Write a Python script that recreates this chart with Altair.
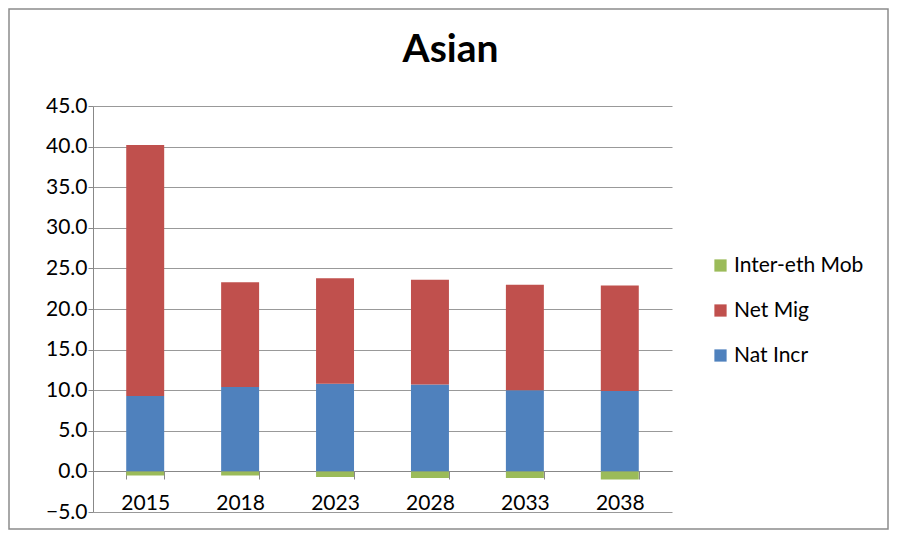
import altair as alt
import pandas as pd

years = ["2015", "2018", "2023", "2028", "2033", "2038"]
nat_incr = [9.3, 10.4, 10.8, 10.7, 10.0, 9.9]
net_mig = [30.9, 12.9, 13.0, 12.9, 13.0, 13.0]
inter_eth = [-0.5, -0.5, -0.7, -0.8, -0.8, -1.0]

series_names = ["Inter-eth Mob", "Net Mig", "Nat Incr"]
series_colors = ["#9BBB59", "#C0504D", "#4F81BD"]
stack_rank = {"Nat Incr": 0, "Net Mig": 1, "Inter-eth Mob": 2}

rows = []
for i, y in enumerate(years):
    rows.append({"year": y, "series": "Nat Incr", "value": nat_incr[i]})
    rows.append({"year": y, "series": "Net Mig", "value": net_mig[i]})
    rows.append({"year": y, "series": "Inter-eth Mob", "value": inter_eth[i]})
df = pd.DataFrame(rows)
df["rank"] = df["series"].map(stack_rank)

FONT = "Lato"
W, H = 579, 406

bars = alt.Chart(df).mark_bar().encode(
    x=alt.X("year:N", sort=years, title=None,
            scale=alt.Scale(paddingInner=0.6, paddingOuter=0.35),
            axis=alt.Axis(orient="bottom", offset=-41, labelAngle=0,
                          tickBand="extent", tickSize=8, tickColor="#888888",
                          domainColor="#888888", labelFontSize=21,
                          labelColor="#000000", labelPadding=13,
                          labelFont=FONT, grid=False)),
    y=alt.Y("value:Q", stack="zero", title=None,
            scale=alt.Scale(domain=[-5, 45], nice=False, zero=False),
            axis=alt.Axis(values=[-5, 0, 5, 10, 15, 20, 25, 30, 35, 40, 45],
                          format=".1f", labelFontSize=21, labelColor="#000000",
                          labelFont=FONT, tickSize=5, tickColor="#888888",
                          domainColor="#888888", gridColor="#999999",
                          labelPadding=1)),
    color=alt.Color("series:N",
                    scale=alt.Scale(domain=series_names, range=series_colors),
                    legend=alt.Legend(orient="none", legendX=617, legendY=149,
                                      title=None, labelFontSize=21,
                                      labelFont=FONT, labelColor="#000000",
                                      symbolType="square", symbolSize=150,
                                      symbolStrokeWidth=0, rowPadding=23,
                                      labelOffset=3)),
    order=alt.Order("rank:Q"),
)

frame = alt.Chart(pd.DataFrame({"a": [0]})).mark_rect(
    fillOpacity=0, stroke="#8c8c8c", strokeWidth=1.5, clip=False
).encode(
    x=alt.value(-84),
    x2=alt.value(795),
    y=alt.value(-97),
    y2=alt.value(423),
)

chart = alt.layer(bars, frame).properties(
    width=W,
    height=H,
    autosize=alt.AutoSizeParams(type="none"),
    padding={"left": 85, "top": 98, "right": 217, "bottom": 18},
    title=alt.Title("Asian", fontSize=39, font=FONT, fontWeight="bold",
                    color="#000000", anchor="middle", frame="group",
                    dx=68, offset=-62),
).configure_view(stroke=None)

chart.save("out.html", embed_options={"renderer": "svg", "actions": False})
